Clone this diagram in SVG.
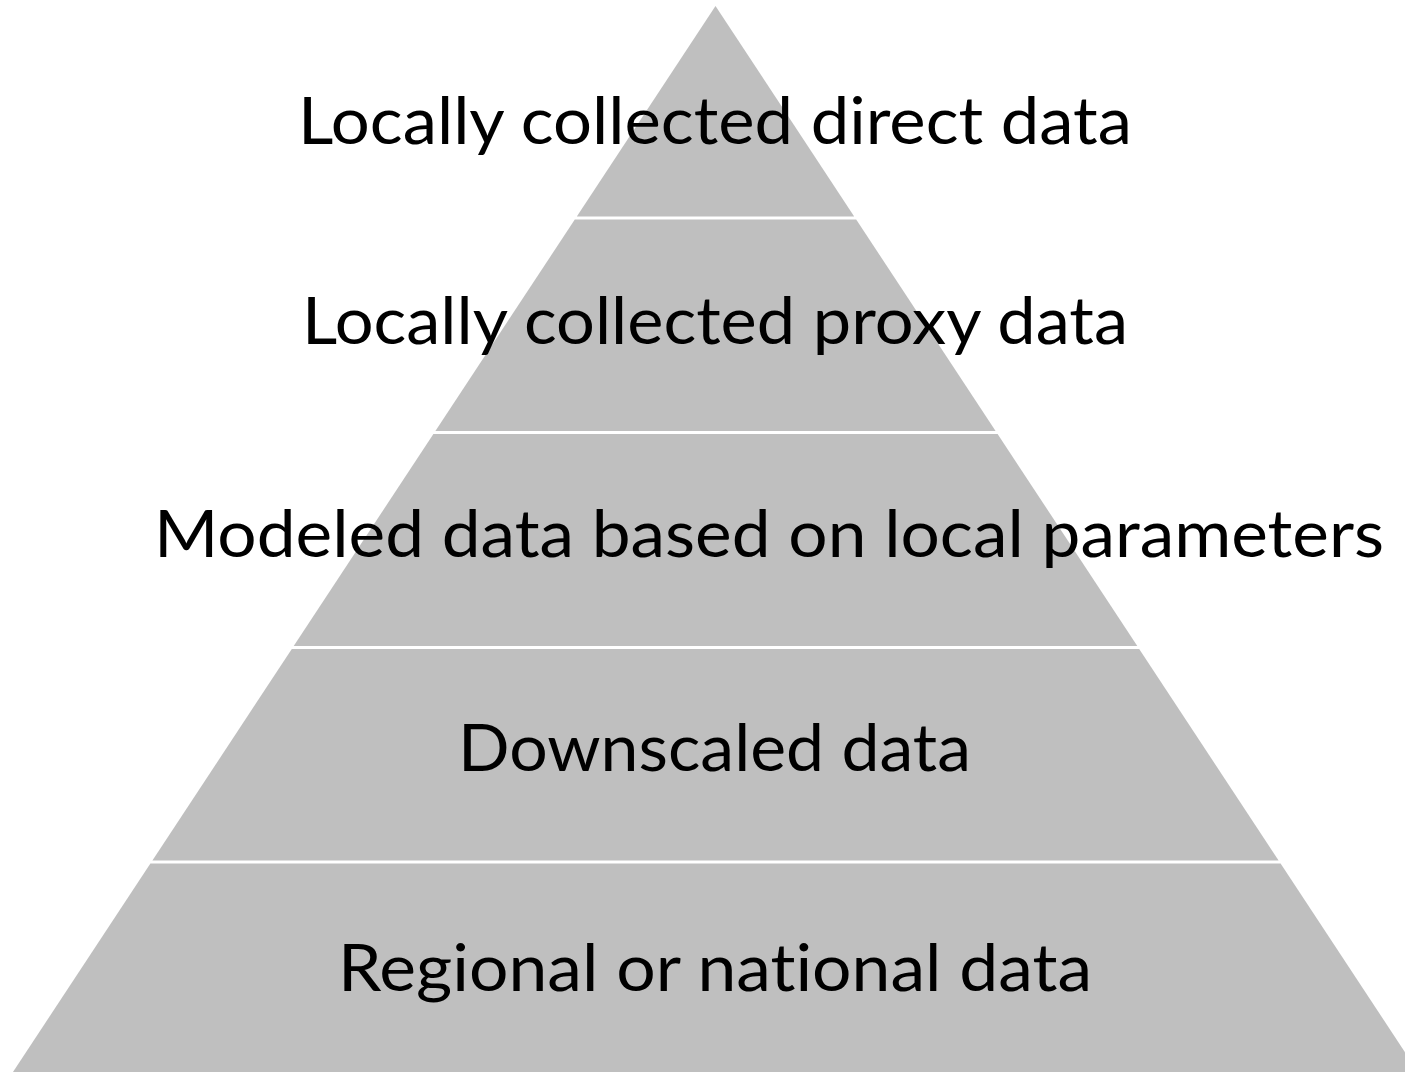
<svg xmlns="http://www.w3.org/2000/svg" width="1405" height="1072" viewBox="0 0 1405 1072">
<style>
.layer{fill:#bfbfbf;stroke:none}
.lbl{font-family:Lato,"Open Sans","Liberation Sans",sans-serif;font-size:65px;fill:#000;text-anchor:middle;font-variant-ligatures:none;font-feature-settings:"liga" 0,"clig" 0}
</style>
<rect x="0" y="0" width="1405" height="1072" fill="#fff"/>
<g id="layer1">
<polygon class="layer" points="715.5,6 854.2,216.5 576.8,216.5"/>
<text class="lbl" x="715" y="144" textLength="834" lengthAdjust="spacingAndGlyphs">Locally collected direct data</text>
</g>
<g id="layer2">
<polygon class="layer" points="574.8,219.5 856.2,219.5 995.6,431 435.4,431"/>
<text class="lbl" x="715" y="344" textLength="826" lengthAdjust="spacingAndGlyphs">Locally collected proxy data</text>
</g>
<g id="layer3">
<polygon class="layer" points="433.4,434 997.6,434 1137.3,646 293.7,646"/>
<text class="lbl" x="769" y="557" textLength="1230" lengthAdjust="spacingAndGlyphs">Modeled data based on local parameters</text>
</g>
<g id="layer4">
<polygon class="layer" points="291.8,649 1139.2,649 1278.6,860.5 152.4,860.5"/>
<text class="lbl" x="714.5" y="771" textLength="513" lengthAdjust="spacingAndGlyphs">Downscaled data</text>
</g>
<g id="layer5">
<polygon class="layer" points="150.4,863.5 1280.6,863.5 1423.3,1080 7.7,1080"/>
<text class="lbl" x="715" y="991" textLength="754" lengthAdjust="spacingAndGlyphs">Regional or national data</text>
</g>
<g id="connectors"/>
</svg>
